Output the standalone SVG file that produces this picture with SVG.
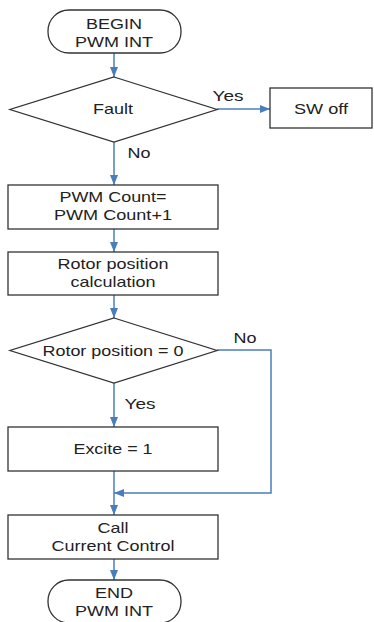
<svg xmlns="http://www.w3.org/2000/svg" width="374" height="622" viewBox="0 0 374 622">
<defs>
<marker id="ah" markerWidth="10" markerHeight="8" refX="10" refY="4" orient="auto" markerUnits="userSpaceOnUse">
<path d="M0,0 L10,4 L0,8 Z" fill="#4a7ebb"/>
</marker>
<style>
.s{fill:#fff;stroke:#333;stroke-width:1.3}
.c{fill:none;stroke:#4a7ebb;stroke-width:1.5}
text{font-family:"Liberation Sans",Arial,sans-serif;font-size:15px;fill:#222;text-anchor:middle}
</style>
</defs>
<rect width="374" height="622" fill="#fff"/>
<g id="connectors">
<line class="c" x1="114" y1="53" x2="114" y2="77" marker-end="url(#ah)"/>
<line class="c" x1="217" y1="109" x2="270" y2="109" marker-end="url(#ah)"/>
<line class="c" x1="114" y1="142" x2="114" y2="185" marker-end="url(#ah)"/>
<line class="c" x1="114" y1="229" x2="114" y2="252" marker-end="url(#ah)"/>
<line class="c" x1="114" y1="295" x2="114" y2="318" marker-end="url(#ah)"/>
<line class="c" x1="114" y1="383" x2="114" y2="427" marker-end="url(#ah)"/>
<polyline class="c" points="217,350 271,350 271,493 114,493" marker-end="url(#ah)"/>
<line class="c" x1="114" y1="471" x2="114" y2="515" marker-end="url(#ah)"/>
<line class="c" x1="114" y1="559" x2="114" y2="580" marker-end="url(#ah)"/>
<text x="228" y="101" textLength="31" lengthAdjust="spacingAndGlyphs">Yes</text>
<text x="139" y="158" textLength="23" lengthAdjust="spacingAndGlyphs">No</text>
<text x="245" y="343" textLength="23" lengthAdjust="spacingAndGlyphs">No</text>
<text x="140" y="409" textLength="31" lengthAdjust="spacingAndGlyphs">Yes</text>
</g>
<g id="begin">
<rect class="s" x="48" y="10" width="133" height="43" rx="21" ry="21"/>
<text x="114" y="28.5" textLength="56" lengthAdjust="spacingAndGlyphs">BEGIN</text>
<text x="114" y="47" textLength="78" lengthAdjust="spacingAndGlyphs">PWM INT</text>
</g>
<g id="fault">
<polygon class="s" points="114,77 217,109.5 114,142 10,109.5"/>
<text x="113" y="114" textLength="40" lengthAdjust="spacingAndGlyphs">Fault</text>
</g>
<g id="swoff">
<rect class="s" x="270" y="88" width="102" height="40"/>
<text x="321" y="113.5" textLength="54" lengthAdjust="spacingAndGlyphs">SW off</text>
</g>
<g id="pwmcount">
<rect class="s" x="8" y="185" width="210" height="44"/>
<text x="113" y="202" textLength="107" lengthAdjust="spacingAndGlyphs">PWM Count=</text>
<text x="113" y="219.5" textLength="118" lengthAdjust="spacingAndGlyphs">PWM Count+1</text>
</g>
<g id="rotorcalc">
<rect class="s" x="8" y="252" width="210" height="43"/>
<text x="113" y="268.5" textLength="111" lengthAdjust="spacingAndGlyphs">Rotor position</text>
<text x="113" y="287" textLength="85" lengthAdjust="spacingAndGlyphs">calculation</text>
</g>
<g id="rotorzero">
<polygon class="s" points="114,318 217,350.5 114,383 10,350.5"/>
<text x="113" y="356" textLength="141" lengthAdjust="spacingAndGlyphs">Rotor position = 0</text>
</g>
<g id="excite">
<rect class="s" x="8" y="427" width="210" height="44"/>
<text x="113" y="454" textLength="79" lengthAdjust="spacingAndGlyphs">Excite = 1</text>
</g>
<g id="callcc">
<rect class="s" x="8" y="515" width="210" height="44"/>
<text x="113" y="532.5" textLength="31" lengthAdjust="spacingAndGlyphs">Call</text>
<text x="113" y="551" textLength="123" lengthAdjust="spacingAndGlyphs">Current Control</text>
</g>
<g id="end">
<rect class="s" x="48" y="580" width="133" height="43" rx="21" ry="21"/>
<text x="114" y="597.5" textLength="38" lengthAdjust="spacingAndGlyphs">END</text>
<text x="114" y="616" textLength="78" lengthAdjust="spacingAndGlyphs">PWM INT</text>
</g>
</svg>
